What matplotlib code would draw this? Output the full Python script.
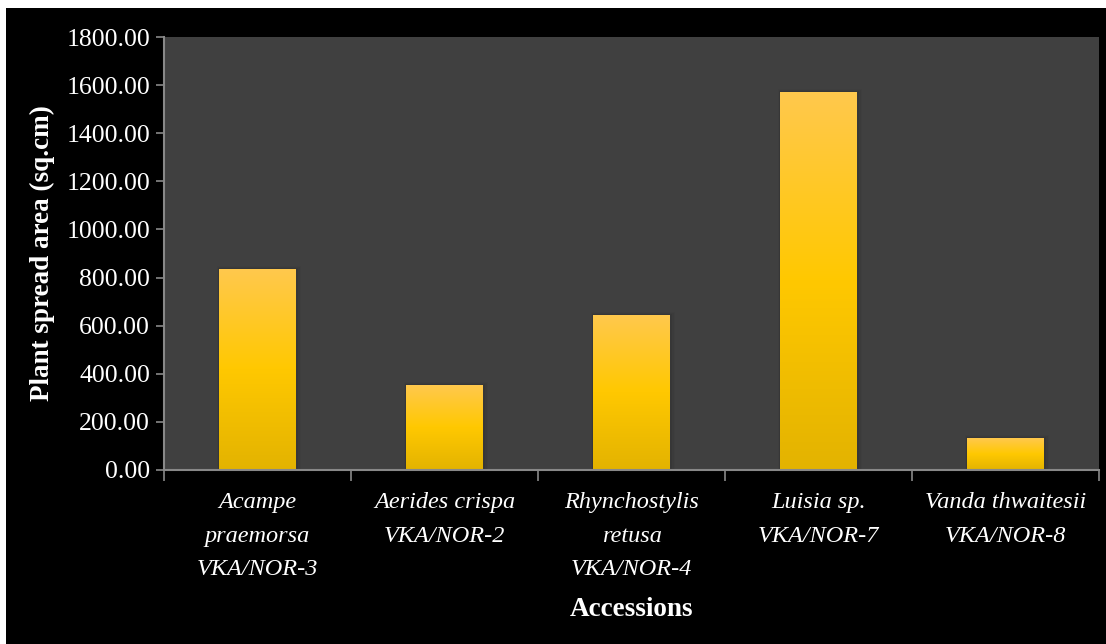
import numpy as np
import matplotlib
matplotlib.use("Agg")
import matplotlib.pyplot as plt
from matplotlib.patches import Rectangle
from matplotlib.colors import LinearSegmentedColormap

# plant spread per accession
accessions = ["Acampe\npraemorsa\nVKA/NOR-3",
              "Aerides crispa\nVKA/NOR-2",
              "Rhynchostylis\nretusa\nVKA/NOR-4",
              "Luisia sp.\nVKA/NOR-7",
              "Vanda thwaitesii\nVKA/NOR-8"]
spread_area = [835.0, 353.0, 644.0, 1571.0, 133.0]
yticks = np.arange(0, 1801, 200)

plt.rcParams['font.family'] = ['Liberation Serif', 'DejaVu Serif']

fig = plt.figure(figsize=(11.06, 6.44), dpi=100)
fig.patch.set_facecolor("white")
# black panel behind the chart (thin white margin on left/top)
fig.patches.append(Rectangle((6/1106, 0), 1 - 6/1106, 1 - 8/644,
                             transform=fig.transFigure, facecolor="black",
                             edgecolor="none", zorder=-5))

ax = fig.add_axes([164/1106, 1 - 470/644, (1099 - 164)/1106, (470 - 37)/644])
ax.set_facecolor("#404040")

gold = LinearSegmentedColormap.from_list(
    "gold", ["#e3b300", "#ffc800", "#ffc94d"])
grad = np.linspace(0, 1, 256).reshape(-1, 1)

x = np.arange(len(accessions))
width = 0.41
for xi, h in zip(x, spread_area):
    # soft shadow, offset a little to the right
    for k, a in enumerate([0.06, 0.04, 0.025]):
        ax.add_patch(Rectangle((xi - width/2 - 0.004*(k+1), 0),
                               width + 0.014*(k+1), h + 4*(k+1),
                               facecolor="black", alpha=a, edgecolor="none",
                               zorder=1))
    ax.imshow(grad, cmap=gold, aspect="auto", origin="lower",
              extent=(xi - width/2, xi + width/2, 0, h), zorder=2)

ax.set_xlim(-0.5, len(accessions) - 0.5)
ax.set_ylim(0, 1800)

ax.set_yticks(yticks)
ax.set_yticklabels([f"{v:.2f}" for v in yticks], color="white", fontsize=18.5)
ax.set_xticks(x)
ax.set_xticklabels(accessions, color="white", fontsize=17.5, style="italic",
                   linespacing=1.78)
ax.set_xticks(np.arange(-0.5, len(accessions)), minor=True)
ax.tick_params(axis="x", which="major", length=0, pad=16)
ax.tick_params(axis="x", which="minor", length=8, color="#888888", width=1.2)
ax.tick_params(axis="y", length=6, color="#888888", width=1.2, pad=4)

for side in ["top", "right"]:
    ax.spines[side].set_visible(False)
for side in ["left", "bottom"]:
    ax.spines[side].set_color("#888888")
    ax.spines[side].set_linewidth(1.5)

ax.set_ylabel("Plant spread area (sq.cm)", color="white", fontsize=19.5,
              fontweight="bold", labelpad=8)
ax.set_xlabel("Accessions", color="white", fontsize=19.5, fontweight="bold",
              labelpad=12)

fig.savefig("out.png", dpi=100)
